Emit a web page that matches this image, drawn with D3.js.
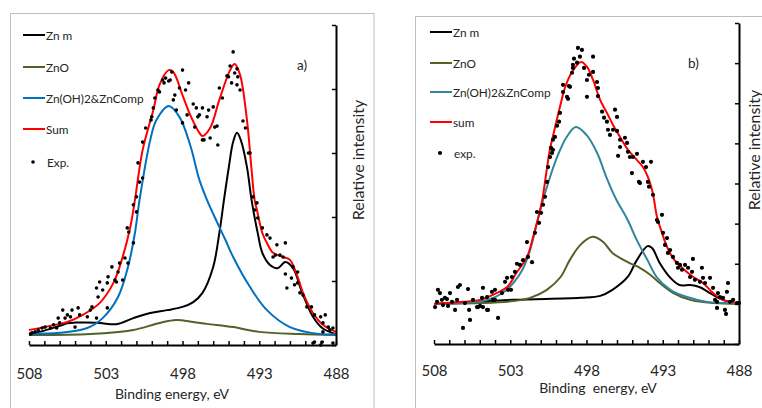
<!DOCTYPE html>
<html>
<head>
<meta charset="utf-8">
<script src="https://cdn.jsdelivr.net/npm/d3@7"></script>
<style>
  html, body { margin: 0; padding: 0; background: #fff; }
  svg { display: block; }
  text { font-family: Lato, "Open Sans", sans-serif; fill: #262626; }
</style>
</head>
<body>
<svg id="chart" width="762" height="408"></svg>
<script>
// Binding-energy axis labels (eV), shared by both panels
const energyTicks = [508, 503, 498, 493, 488];

// ---- Panel a) : fitted components, [binding energy (eV), intensity (a.u.)] ----
const aZnMetal = [[508,3.5],[507,4.5],[506,6],[505.5,6.8],[505,7.0],[504.5,7.0],[503.4,6.9],[502.3,6.5],[501.2,8.4],[500.1,10],[499,10.9],[498,11.9],[497.3,13.4],[496.7,16.3],[496,24.4],[495.6,35],[495.3,45.3],[495.0,55],[494.7,63.5],[494.45,66.3],[494.2,64],[493.8,55.6],[493.5,45.3],[493.1,35],[492.8,28.8],[492.3,25],[491.8,24],[491.3,25.9],[490.8,24],[490.2,16.3],[489.5,8.8],[488.9,5.3],[488,3.4]];
const aZnO = [[508,3.1],[504,3.4],[501.2,4.7],[499.5,6.9],[498.4,7.8],[497.3,7.2],[496.4,6.6],[494.7,5.6],[493,4.1],[490.4,3.4],[488,3.1]];
const aHydroxide = [[508,3.4],[506,3.8],[504.2,5.3],[503.2,8.4],[502.2,15],[501.55,24.4],[501.1,35],[500.8,45.3],[500.1,64.1],[499.7,70.3],[498.9,74.7],[498.2,71.3],[497.5,62.5],[496.9,51.6],[496.4,45.3],[495.75,38.4],[495.2,32.8],[494.7,27.5],[493.6,18.1],[492.5,10.9],[491,5.6],[489,3.4],[488,3.4]];
const aSum = [[508,4.7],[506.7,5.9],[505.5,7.2],[504.5,9.4],[503.4,13.1],[502.5,19.4],[501.9,27.5],[501.4,36.9],[501.1,45.3],[500.6,60.9],[499.9,73.4],[499.5,81.3],[498.9,85.9],[498.6,85.3],[498,78.1],[497.5,71.9],[496.9,66.3],[496.7,65.3],[496.2,67.8],[495.6,76.6],[494.9,85.9],[494.6,87.8],[494.25,84.4],[493.8,70.3],[493.5,54.7],[493.3,45.3],[493.15,42.2],[492.8,35],[492.5,31.9],[492.1,28.8],[491.45,27.5],[491,26.6],[490.5,21.3],[490.15,16.3],[489.5,10],[488.85,6.3],[488,4.1]];
const aExp = [[494.7,91.6],[498.0,85.9],[498.7,85.3],[499.3,82.8],[499.1,83.4],[498.9,82.5],[498.8,82.8],[499.2,81.9],[499.6,79.7],[499.5,79.1],[499.8,77.2],[499.9,74.1],[500.0,71.3],[500.05,70.3],[500.4,67.8],[500.6,63.4],[500.6,52.2],[500.8,50.9],[500.9,56.9],[501.0,46.3],[497.6,81.9],[498.2,80.3],[497.8,79.7],[498.5,78.1],[498.6,76.6],[498.4,73.4],[498.0,69.4],[497.7,71.9],[497.3,75.3],[497.1,74.1],[496.7,74.1],[496.3,73.4],[496.9,71.9],[497.0,71.3],[497.2,68.1],[496.7,64.1],[496.6,64.1],[496.2,64.7],[496.4,71.3],[496.0,74.4],[495.9,68.1],[495.75,68.4],[495.7,62.5],[495.6,80.3],[495.4,77.2],[495.1,84.1],[495.0,83.8],[494.8,81.9],[494.9,87.2],[494.45,86.3],[494.6,85],[494.4,83.8],[494.45,81.3],[494.25,79.7],[494.06,70],[493.9,67.8],[493.7,60],[493.6,60],[493.4,46.3],
  [501.2,43.8],[501.0,41.6],[501.6,36.6],[501.5,35.3],[501.2,31.9],[501.75,27.2],[502.1,25.6],[501.55,25.6],[502.2,22.8],[502.4,20.3],[502.3,19.7],[501.9,20.3],[502.6,24.4],[502.9,19.4],[502.85,21.3],[503.4,19.7],[503.2,17.2],[503.6,17.8],[503.5,15],[503.9,11.9],[504.0,10.9],[503.6,8.4],[502.9,11.6],[504.2,8.8],[504.7,9.4],[504.8,11.6],[505.2,10.9],[505.3,8.8],[505.5,9.4],[505.8,10.9],[505.65,8.4],[506.1,8.4],[506.0,6.9],[506.4,6.3],[506.6,5.3],[506.95,5.6],[507.15,5.3],[507.4,4.7],[507.6,4.1],[507.8,3.8],[507.9,3.4],[505.0,5.6],[506.2,5.3],
  [493.15,44.4],[493.3,42.2],[493.1,39.7],[492.8,36.6],[492.5,34.4],[492.3,33.4],[491.85,31.3],[491.95,28.1],[492.1,27.5],[491.65,28.1],[491.3,31.9],[491.45,27.5],[491.3,22.2],[491.2,17.8],[490.9,20.9],[490.7,18.8],[490.5,19.4],[490.8,24.4],[490.5,22.8],[490.35,16.3],[490.15,15.6],[489.9,11.9],[489.6,11.9],[489.4,9.4],[489.0,8.8],[488.7,9.4],[488.85,6.9],[488.5,5.6],[488.4,4.7],[489.4,0.9],[489.5,0.6],[488.9,0.9],[489.0,0],[488.2,0.6],[488.85,4.1],[488.2,5.3]];

// ---- Panel b) ----
const bZnMetal = [[508,10],[502.8,11],[498.4,11.5],[497.1,12],[496.3,13.5],[495.3,16.7],[494.7,20.9],[494.0,24.4],[493.7,23.9],[493.2,20.2],[492.5,16.5],[491.9,14.7],[491.2,14.7],[490.6,14.2],[489.9,12.7],[489.05,11],[488,10]];
const bZnO = [[508,10],[505,10.2],[502.8,10.7],[501.7,11.5],[500.6,13.5],[499.7,16.7],[499.1,20.9],[498.4,24.7],[497.6,26.7],[496.9,25.4],[496.3,22.7],[495.3,20.4],[494.5,19],[493.8,17.2],[493.2,15.2],[492.3,12.7],[491.2,11],[489.7,10.2],[488,10]];
const bHydroxide = [[508,10],[506.1,10.2],[504.5,11],[503.5,12.7],[502.8,15.2],[502.2,18.5],[501.7,23.4],[501.25,30.2],[500.85,35.9],[500.4,41.5],[499.93,46.6],[499.3,51.6],[498.7,54.1],[498.0,52.1],[497.3,47.6],[496.7,41.6],[496.1,36.4],[495.3,30.9],[494.7,25.9],[494.0,20.9],[493.4,16.7],[492.5,13.5],[491.4,11.7],[490.1,10.5],[488,10.2]];
const bSum = [[508,10],[506.1,10.5],[505,11],[503.9,12.7],[503.2,14.2],[502.6,17.7],[501.9,21.7],[501.5,26.7],[501.2,30.9],[500.9,35.9],[500.65,42.3],[500.4,48.4],[500.07,53.9],[499.74,59.1],[499.4,64],[498.95,67.8],[498.36,70.3],[497.97,69.1],[497.57,65.8],[497.1,60.8],[496.66,57.6],[496.26,54.6],[495.8,51.6],[495.28,48.4],[494.7,45.9],[494.3,44.1],[493.97,41.6],[493.7,38.4],[493.57,35.9],[493.38,31.7],[493.05,27.7],[492.72,24.2],[492.33,21.4],[491.74,19],[491,16.7],[490.36,15.2],[489.7,12.7],[489.05,11],[488,10.2]];
const bExp = [[498.56,73.8],[498.3,73.3],[498.82,71.1],[498.43,71.6],[498.62,70.1],[498.89,69.6],[498.95,67.6],[498.89,68.8],[498.16,68.8],[497.57,71.6],[497.57,67.8],[497.84,67.1],[497.97,65.8],[497.31,65.3],[497.97,61.6],[497.25,61.8],[497.25,63.8],[496.98,57.9],[496.85,56.4],[496.66,55.4],[496.13,58.4],[496.0,56.6],[496.59,53.4],[496.46,52.1],[496.26,53.4],[496.0,53.1],[495.8,50.9],[495.48,51.4],[495.34,50.1],[495.28,47.9],[495.8,49.1],[495.93,46.9],[495.15,46.6],[494.95,46.6],[494.69,47.4],[495.02,42.6],[494.3,45.4],[494.1,44.1],[493.77,45.4],[493.97,40.4],[494.56,40.4],[494.49,40.1],[493.9,39.2],[493.64,37.2],
  [499.15,64.3],[499.28,61.6],[499.21,61.1],[499.54,62.8],[499.54,64.6],[499.08,64.1],[499.74,57.6],[499.8,55.4],[499.93,54.4],[500.07,51.6],[500.2,50.9],[500.33,48.9],[500.2,48.4],[500.26,47.6],[500.39,46.6],[500.52,44.1],[500.59,40.4],[500.72,36.7],
  [500.85,34.7],[500.98,32.7],[501.25,32.9],[501.11,30.2],[501.38,27.7],[501.9,25.4],[501.84,21.7],[501.57,20.4],[502.16,20.9],[502.36,19.7],[502.56,20.0],[502.69,18.0],[502.89,16.7],[503.21,16.5],[503.34,15.5],[503.15,13.5],[502.95,13.5],[503.54,12.7],[504.0,13.5],[504.2,13.0],[504.13,11.0],[504.52,11.7],[504.79,14.0],[504.85,11.5],[504.52,8.5],[504.46,8.5],[503.8,6.5],[504.0,11.0],[505.11,9.2],[505.44,11.0],[505.7,8.5],[505.64,6.0],[506.1,4.0],[505.77,13.7],[506.3,14.7],[506.43,14.2],[506.62,8.5],[506.49,11.0],[506.95,12.7],[506.82,10.5],[507.08,9.5],[507.28,11.5],[507.48,11.0],[507.61,12.7],[507.74,13.5],[507.8,10.5],[507.93,9.2],[505.18,9.2],[504.98,9.5],[507.41,9.7],[507.15,11.2],[505.97,10.2],[504.79,9.2],
  [493.38,30.9],[493.31,30.4],[493.05,32.2],[492.98,27.7],[492.72,26.4],[492.85,24.7],[492.52,23.4],[492.33,21.7],[492.66,22.7],[492.07,20.2],[491.87,19.7],[491.74,18.5],[492.0,19.0],[491.54,19.7],[491.34,19.0],[491.02,21.2],[491.08,18.0],[490.89,16.0],[491.21,16.7],[490.43,19.0],[490.36,16.5],[490.56,15.5],[490.23,15.2],[489.9,16.5],[489.7,14.0],[489.38,12.7],[488.72,15.2],[488.79,13.0],[489.05,11.5],[489.25,11.7],[489.57,11.0],[488.59,10.5],[488.39,11.0],[488.13,10.2],[488.0,10.2],[489.44,9.0],[488.92,8.5],[488.85,7.5],[489.44,10.5]];

const svg = d3.select("#chart");

function drawPanel(p) {
  const g = svg.append("g");

  // chart-area border
  g.append("rect")
    .attr("x", p.frame[0]).attr("y", p.frame[1])
    .attr("width", p.frame[2]).attr("height", p.frame[3])
    .attr("fill", "#fff").attr("stroke", "#bfbfbf").attr("stroke-width", 1);

  const x = d3.scaleLinear().domain([508, 488]).range([p.left, p.right]);
  const y = d3.scaleLinear().domain(p.yDomain).range([p.bottom, p.top]);

  // fitted curves
  const line = d3.line()
    .x(d => x(d[0])).y(d => y(d[1]))
    .curve(d3.curveCatmullRom.alpha(0.5));

  p.series.forEach(s => {
    if (s.kind !== "line") return;
    g.append("path")
      .datum(s.data.slice().sort((a, b) => b[0] - a[0]))
      .attr("d", line)
      .attr("fill", "none")
      .attr("stroke", s.color)
      .attr("stroke-width", 2)
      .attr("stroke-linejoin", "round");
  });

  // measured points
  p.series.filter(s => s.kind === "dot").forEach(s => {
    g.append("g").selectAll("circle")
      .data(s.data).join("circle")
      .attr("cx", d => x(d[0])).attr("cy", d => y(d[1]))
      .attr("r", p.dotR).attr("fill", "#000");
  });

  // bottom axis: a tick every eV, labels every 5 eV, ticks pointing inward
  const xAxis = d3.axisBottom(x)
    .tickValues(d3.range(488, 509))
    .tickFormat(d => energyTicks.includes(d) ? d : "")
    .tickSizeInner(-4).tickSizeOuter(0)
    .tickPadding(p.tickPad);
  const gx = g.append("g").attr("transform", `translate(0,${p.bottom})`).call(xAxis);
  gx.select(".domain").attr("stroke", "#000").attr("stroke-width", 2);
  gx.selectAll(".tick line").attr("stroke", "#000").attr("stroke-width", 1.5);
  gx.selectAll(".tick text")
    .attr("font-size", 15).attr("fill", "#262626")
    .style("font-family", "Lato, 'Open Sans', sans-serif");

  // right-hand intensity axis, unlabelled ticks pointing inward
  const yAxis = d3.axisLeft(y)
    .tickValues(d3.range(p.yDomain[0], p.yDomain[1] + 0.001, p.yStep))
    .tickFormat("")
    .tickSizeInner(4).tickSizeOuter(0);
  const gy = g.append("g").attr("transform", `translate(${p.right},0)`).call(yAxis);
  gy.select(".domain").attr("stroke", "#000").attr("stroke-width", 2);
  gy.selectAll(".tick line").attr("stroke", "#000").attr("stroke-width", 1.5);

  // axis titles
  g.append("text")
    .attr("x", p.xTitle[0]).attr("y", p.xTitle[1])
    .attr("text-anchor", "middle").attr("font-size", 14)
    .style("white-space", "pre")
    .text(p.xTitleText);
  g.append("text")
    .attr("transform", `translate(${p.yTitle[0]},${p.yTitle[1]}) rotate(-90)`)
    .attr("text-anchor", "middle").attr("dominant-baseline", "central")
    .attr("font-size", p.yTitleSize)
    .text("Relative intensity");

  // panel tag
  g.append("text")
    .attr("x", p.tag[0]).attr("y", p.tag[1])
    .attr("font-size", 13.5)
    .text(p.tagText);

  // legend
  const lg = g.append("g");
  p.series.forEach((s, i) => {
    const yy = p.legendRows[i];
    if (s.kind === "line") {
      lg.append("line")
        .attr("x1", p.legendX[0]).attr("x2", p.legendX[1])
        .attr("y1", yy).attr("y2", yy)
        .attr("stroke", s.color).attr("stroke-width", 2);
    } else {
      lg.append("circle")
        .attr("cx", (p.legendX[0] + p.legendX[1]) / 2 - 1).attr("cy", yy)
        .attr("r", p.dotR).attr("fill", "#000");
    }
    lg.append("text")
      .attr("x", s.kind === "line" ? p.legendX[1] + 1 : p.legendX[1] + 2)
      .attr("y", yy).attr("dominant-baseline", "central")
      .attr("font-size", 11.8)
      .text(s.label);
  });
}

drawPanel({
  frame: [10.5, 13.5, 363.5, 420],
  left: 29, right: 336, top: 25, bottom: 345,
  yDomain: [0, 100], yStep: 20,
  tickPad: 23,
  dotR: 1.8,
  xTitle: [172, 399], xTitleText: "Binding energy, eV",
  yTitle: [357, 160], yTitleSize: 16,
  tag: [297, 70], tagText: "a)",
  legendX: [23, 45],
  legendRows: [35, 67, 98, 129, 162],
  series: [
    { label: "Zn m", kind: "line", color: "#000000", data: aZnMetal },
    { label: "ZnO", kind: "line", color: "#4f6228", data: aZnO },
    { label: "Zn(OH)2&ZnComp", kind: "line", color: "#0070c0", data: aHydroxide },
    { label: "Sum", kind: "line", color: "#ff0000", data: aSum },
    { label: "Exp.", kind: "dot", data: aExp }
  ]
});

drawPanel({
  frame: [415.5, 16.5, 400, 420],
  left: 434, right: 739, top: 23, bottom: 344,
  yDomain: [0, 80], yStep: 10,
  tickPad: 21,
  dotR: 2.1,
  xTitle: [598, 393], xTitleText: "Binding  energy, eV",
  yTitle: [753, 150], yTitleSize: 16,
  tag: [688, 68], tagText: "b)",
  legendX: [430, 452],
  legendRows: [32, 63, 92, 122, 153],
  series: [
    { label: "Zn m", kind: "line", color: "#000000", data: bZnMetal },
    { label: "ZnO", kind: "line", color: "#4f6228", data: bZnO },
    { label: "Zn(OH)2&ZnComp", kind: "line", color: "#31859c", data: bHydroxide },
    { label: "sum", kind: "line", color: "#ff0000", data: bSum },
    { label: "exp.", kind: "dot", data: bExp }
  ]
});
</script>
</body>
</html>
